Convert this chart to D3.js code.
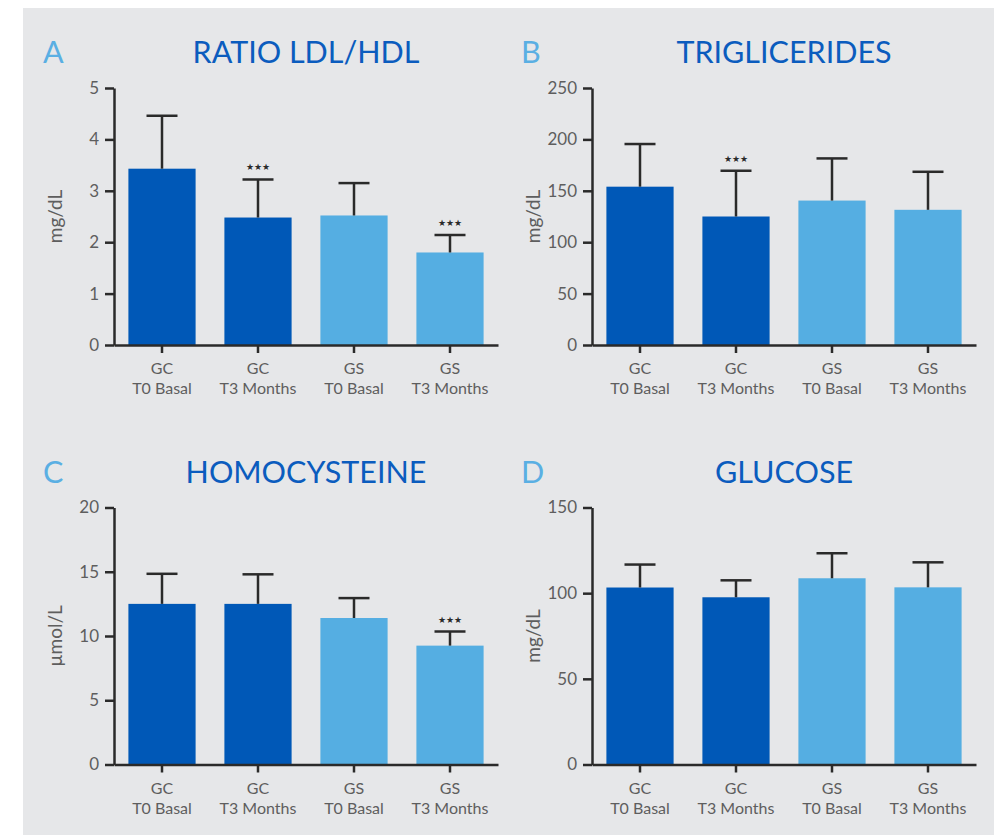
<!DOCTYPE html>
<html>
<head>
<meta charset="utf-8">
<script src="https://cdn.jsdelivr.net/npm/d3@7"></script>
<style>
  body { margin: 0; background: #fff; }
  svg { display: block; }
  .tick text { font-family: Lato, sans-serif; fill: #5e5e5e; }
</style>
</head>
<body>
<div id="chart"></div>
<script>
// categories (two-line labels)
const groups = ["GC", "GC", "GS", "GS"];
const times = ["T0 Basal", "T3 Months", "T0 Basal", "T3 Months"];

// A - ratio LDL/HDL
const ldlHdlMean = [3.43, 2.48, 2.52, 1.80];
const ldlHdlSd = [1.03, 0.74, 0.63, 0.34];
const ldlHdlSig = [false, true, false, true];

// B - triglicerides
const trigMean = [154, 125, 140.5, 131.5];
const trigSd = [41.5, 44.5, 41, 37];
const trigSig = [false, true, false, false];

// C - homocysteine
const homoMean = [12.5, 12.5, 11.4, 9.25];
const homoSd = [2.34, 2.3, 1.55, 1.1];
const homoSig = [false, false, false, true];

// D - glucose
const glucMean = [103.3, 97.6, 108.7, 103.4];
const glucSd = [13.4, 9.9, 14.6, 14.6];
const glucSig = [false, false, false, false];

const panels = [
  { letter: "A", title: "RATIO LDL/HDL", unit: "mg/dL", mean: ldlHdlMean, sd: ldlHdlSd, sig: ldlHdlSig, max: 5, step: 1, col: 0, row: 0 },
  { letter: "B", title: "TRIGLICERIDES", unit: "mg/dL", mean: trigMean, sd: trigSd, sig: trigSig, max: 250, step: 50, col: 1, row: 0 },
  { letter: "C", title: "HOMOCYSTEINE", unit: "µmol/L", mean: homoMean, sd: homoSd, sig: homoSig, max: 20, step: 5, col: 0, row: 1 },
  { letter: "D", title: "GLUCOSE", unit: "mg/dL", mean: glucMean, sd: glucSd, sig: glucSig, max: 150, step: 50, col: 1, row: 1 }
];

const width = 994, height = 835;
const colX = [114, 592];
const rowY = [88, 507.5];
const plotW = 384, plotH = 257;
const darkBlue = "#0058b7", lightBlue = "#55aee2";
const titleColor = "#0b5cbe", letterColor = "#5aafe3";
const ink = "#2a2a2a";

const svg = d3.select("#chart")
  .append("svg")
  .attr("width", width)
  .attr("height", height);

svg.append("rect")
  .attr("x", 23)
  .attr("y", 8)
  .attr("width", width - 23)
  .attr("height", height - 8)
  .attr("fill", "#e6e7e9");

panels.forEach((p) => drawPanel(p));

function drawPanel(p) {
  const g = svg.append("g")
    .attr("transform", `translate(${colX[p.col]},${rowY[p.row]})`);

  const idx = d3.range(p.mean.length);
  const x = d3.scaleBand().domain(idx).range([0, plotW]).paddingInner(0.3).paddingOuter(0.15);
  const y = d3.scaleLinear().domain([0, p.max]).range([plotH, 0]);

  // title + letter
  g.append("text")
    .attr("x", -71)
    .attr("y", -25)
    .attr("fill", letterColor)
    .style("font-family", "Lato, sans-serif")
    .style("font-size", "30.5px")
    .text(p.letter);

  g.append("text")
    .attr("x", plotW / 2)
    .attr("y", -25)
    .attr("text-anchor", "middle")
    .attr("fill", titleColor)
    .style("font-family", "Lato, sans-serif")
    .style("font-size", "30.5px")
    .text(p.title);

  // y axis title
  g.append("text")
    .attr("transform", `translate(${-59},${plotH / 2}) rotate(-90)`)
    .attr("text-anchor", "middle")
    .attr("dy", "0.35em")
    .attr("fill", "#5e5e5e")
    .style("font-family", "Lato, sans-serif")
    .style("font-size", "19px")
    .text(p.unit);

  // bars
  g.selectAll("rect.bar")
    .data(idx)
    .enter()
    .append("rect")
    .attr("class", "bar")
    .attr("x", (i) => x(i))
    .attr("y", (i) => y(p.mean[i]))
    .attr("width", x.bandwidth())
    .attr("height", (i) => plotH - y(p.mean[i]))
    .attr("fill", (i) => (groups[i] === "GC" ? darkBlue : lightBlue));

  // error bars (upper only)
  const eb = g.selectAll("g.err")
    .data(idx)
    .enter()
    .append("g")
    .attr("class", "err")
    .attr("stroke", ink)
    .attr("stroke-width", 2.5);

  eb.append("line")
    .attr("x1", (i) => x(i) + x.bandwidth() / 2)
    .attr("x2", (i) => x(i) + x.bandwidth() / 2)
    .attr("y1", (i) => y(p.mean[i]))
    .attr("y2", (i) => y(p.mean[i] + p.sd[i]));

  eb.append("line")
    .attr("x1", (i) => x(i) + x.bandwidth() / 2 - 15.5)
    .attr("x2", (i) => x(i) + x.bandwidth() / 2 + 15.5)
    .attr("y1", (i) => y(p.mean[i] + p.sd[i]))
    .attr("y2", (i) => y(p.mean[i] + p.sd[i]));

  // significance marks
  g.selectAll("text.sig")
    .data(idx.filter((i) => p.sig[i]))
    .enter()
    .append("text")
    .attr("class", "sig")
    .attr("x", (i) => x(i) + x.bandwidth() / 2)
    .attr("y", (i) => y(p.mean[i] + p.sd[i]) - 9)
    .attr("text-anchor", "middle")
    .attr("fill", ink)
    .style("font-family", "DejaVu Sans, sans-serif")
    .style("font-size", "9px")
    .text("★★★");

  // axes
  const yAxis = g.append("g")
    .call(d3.axisLeft(y).tickValues(d3.range(0, p.max + p.step / 2, p.step))
      .tickFormat(d3.format("d"))
      .tickSize(9).tickSizeOuter(0).tickPadding(6));
  yAxis.selectAll("text").style("font-size", "17px");

  const xAxis = g.append("g")
    .attr("transform", `translate(0,${plotH})`)
    .call(d3.axisBottom(x).tickSize(8).tickSizeOuter(0).tickFormat(() => ""));

  [yAxis, xAxis].forEach((a) => {
    a.selectAll("path, line").attr("stroke", ink).attr("stroke-width", 2.5);
  });

  // two-line category labels
  const lab = g.selectAll("text.cat")
    .data(idx)
    .enter()
    .append("text")
    .attr("class", "cat")
    .attr("text-anchor", "middle")
    .attr("fill", "#5e5e5e")
    .style("font-family", "Lato, sans-serif")
    .style("font-size", "16px");

  lab.append("tspan")
    .attr("x", (i) => x(i) + x.bandwidth() / 2)
    .attr("y", plotH + 29)
    .text((i) => groups[i]);

  lab.append("tspan")
    .attr("x", (i) => x(i) + x.bandwidth() / 2)
    .attr("y", plotH + 49)
    .text((i) => times[i]);
}
</script>
</body>
</html>
